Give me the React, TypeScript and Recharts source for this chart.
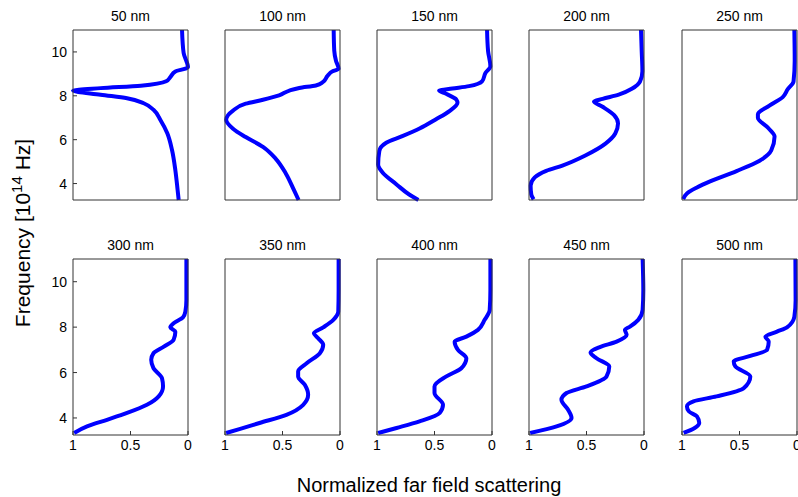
import React from 'react';
import { LineChart, Line, XAxis, YAxis } from 'recharts';

// ---------- data ----------
const titles = ['50 nm', '100 nm', '150 nm', '200 nm', '250 nm', '300 nm', '350 nm', '400 nm', '450 nm', '500 nm'];
const xTicks = [0, 0.5, 1];
const yTicks = [4, 6, 8, 10];
const Y_MIN = 3.25;
const Y_MAX = 11;

// frequency [1e14 Hz] / normalized scattering for each diameter
const f50 = [3.25, 3.69, 4.61, 5.53, 6.29, 6.9, 7.36, 7.66, 7.89, 8.05, 8.24, 8.35, 8.46, 8.66, 8.85, 9.11, 9.24, 9.3, 9.95, 11];
const s50 = [0.081, 0.09, 0.11, 0.139, 0.18, 0.24, 0.3, 0.385, 0.53, 0.76, 1.0, 0.76, 0.41, 0.19, 0.154, 0.11, 0.023, 0.0, 0.038, 0.052];

const f100 = [3.25, 3.7, 4.45, 5.14, 5.67, 6.12, 6.5, 6.91, 7.33, 7.64, 7.82, 8.02, 8.24, 8.36, 8.47, 8.62, 8.92, 9.12, 9.23, 9.6, 10.06, 11];
const s100 = [0.36, 0.4, 0.47, 0.56, 0.67, 0.82, 0.93, 0.99, 0.93, 0.82, 0.67, 0.53, 0.44, 0.354, 0.21, 0.15, 0.107, 0.064, 0.012, 0.035, 0.05, 0.055];

const f150 = [3.25, 3.5, 3.96, 4.49, 4.87, 5.48, 5.86, 6.16, 6.51, 6.92, 7.3, 7.68, 7.83, 8.09, 8.24, 8.33, 8.44, 8.66, 9.04, 9.35, 10.03, 11];
const s150 = [0.64, 0.72, 0.83, 0.95, 0.99, 0.98, 0.92, 0.78, 0.63, 0.49, 0.37, 0.3, 0.31, 0.4, 0.46, 0.345, 0.2, 0.086, 0.057, 0.014, 0.034, 0.043];

const f200 = [3.28, 3.5, 3.9, 4.28, 4.58, 4.82, 5.28, 5.82, 6.28, 6.74, 7.12, 7.5, 7.74, 7.86, 8.05, 8.32, 8.66, 9.12, 10.05, 11];
const s200 = [0.96, 0.98, 0.986, 0.95, 0.85, 0.71, 0.51, 0.335, 0.25, 0.226, 0.26, 0.36, 0.435, 0.36, 0.22, 0.106, 0.034, 0.014, 0.02, 0.026];

const f250 = [3.29, 3.55, 3.82, 4.1, 4.57, 5.04, 5.51, 6.14, 6.53, 7.0, 7.16, 7.55, 7.94, 8.3, 8.65, 9.6, 11];
const s250 = [0.99, 0.957, 0.87, 0.756, 0.526, 0.325, 0.224, 0.195, 0.25, 0.34, 0.34, 0.24, 0.124, 0.08, 0.03, 0.02, 0.023];

const f300 = [3.34, 3.63, 3.92, 4.22, 4.58, 4.95, 5.39, 5.75, 6.19, 6.56, 6.85, 7.14, 7.44, 7.8, 7.99, 8.17, 8.43, 8.68, 9.2, 11];
const s300 = [0.99, 0.878, 0.704, 0.53, 0.357, 0.255, 0.217, 0.226, 0.3, 0.32, 0.3, 0.21, 0.125, 0.11, 0.154, 0.125, 0.043, 0.023, 0.014, 0.014];

const f350 = [3.34, 3.51, 3.78, 4.14, 4.58, 5.02, 5.46, 5.83, 6.05, 6.41, 6.85, 7.22, 7.51, 7.73, 7.99, 8.32, 8.68, 9.63, 11];
const s350 = [0.99, 0.875, 0.7, 0.466, 0.32, 0.277, 0.306, 0.364, 0.364, 0.29, 0.175, 0.146, 0.19, 0.227, 0.146, 0.058, 0.015, 0.012, 0.012];

const f400 = [3.34, 3.56, 3.85, 4.22, 4.58, 5.1, 5.39, 5.83, 6.19, 6.63, 7.0, 7.36, 7.58, 7.88, 8.32, 8.76, 9.63, 11];
const s400 = [0.99, 0.83, 0.63, 0.455, 0.426, 0.5, 0.5, 0.397, 0.267, 0.223, 0.296, 0.325, 0.223, 0.122, 0.064, 0.02, 0.014, 0.014];

const f450 = [3.34, 3.63, 4.0, 4.36, 4.8, 5.1, 5.39, 5.83, 6.27, 6.63, 6.88, 7.12, 7.36, 7.66, 7.88, 8.02, 8.32, 8.76, 9.63, 11];
const s450 = [0.99, 0.76, 0.63, 0.66, 0.718, 0.674, 0.5, 0.326, 0.302, 0.413, 0.465, 0.384, 0.238, 0.151, 0.166, 0.122, 0.05, 0.012, 0.006, 0.012];

const f500 = [3.34, 3.56, 3.78, 4.07, 4.29, 4.51, 4.73, 4.95, 5.31, 5.83, 6.27, 6.49, 6.73, 7.0, 7.36, 7.58, 7.8, 7.99, 8.46, 9.2, 11];
const s500 = [0.986, 0.89, 0.85, 0.87, 0.94, 0.957, 0.9, 0.7, 0.464, 0.406, 0.536, 0.55, 0.406, 0.26, 0.246, 0.275, 0.174, 0.087, 0.023, 0.012, 0.014];

const freqs = [f50, f100, f150, f200, f250, f300, f350, f400, f450, f500];
const scats = [s50, s100, s150, s200, s250, s300, s350, s400, s450, s500];

// ---------- layout ----------
const PANEL_X = [73, 225, 377, 529, 682];
const PW = 115;
const ROW_Y = [30, 259];
const ROW_H = [170, 176];
const FRAME = '#333333';
const FONT = '"Liberation Sans", Arial, Helvetica, sans-serif';

function Panel({ idx }: { idx: number }) {
  const row = Math.floor(idx / 5);
  const col = idx % 5;
  const L = 45, T = 6, R = 12, B = 28;
  const px = PANEL_X[col];
  const py = ROW_Y[row];
  const ph = ROW_H[row];
  const data = freqs[idx].map((f, i) => ({ f, v: scats[idx][i] }));
  const showX = row === 1;
  const showY = col === 0;
  const tickStyle = { fill: '#000', fontSize: 14, fontFamily: FONT };
  const line = { stroke: FRAME, strokeWidth: 1 };
  return (
    <div style={{ position: 'absolute', left: px - L, top: py - T }}>
      <LineChart
        width={PW + L + R}
        height={ph + T + B}
        data={data}
        layout="vertical"
        margin={{ top: T - 1, right: R - 1, bottom: 0, left: 0 }}
      >
        <XAxis
          type="number"
          domain={[0, 1]}
          reversed
          orientation="bottom"
          height={B}
          ticks={xTicks}
          interval={0}
          axisLine={line}
          tickLine={showX ? line : false}
          tick={showX ? tickStyle : false}
          tickSize={-4}
          tickMargin={9}
        />
        <XAxis
          xAxisId="top"
          type="number"
          domain={[0, 1]}
          reversed
          orientation="top"
          height={1}
          ticks={xTicks}
          interval={0}
          axisLine={line}
          tickLine={showX ? line : false}
          tick={false}
          tickSize={-4}
        />
        <YAxis
          type="number"
          dataKey="f"
          domain={[Y_MIN, Y_MAX]}
          reversed
          orientation="left"
          width={L}
          ticks={yTicks}
          interval={0}
          axisLine={line}
          tickLine={showY ? line : false}
          tick={showY ? tickStyle : false}
          tickSize={-4}
          tickMargin={10}
        />
        <YAxis
          yAxisId="right"
          type="number"
          dataKey="f"
          domain={[Y_MIN, Y_MAX]}
          reversed
          orientation="right"
          width={1}
          ticks={yTicks}
          interval={0}
          axisLine={line}
          tickLine={showY ? line : false}
          tick={false}
          tickSize={-4}
        />
        <Line
          dataKey="v"
          type="monotone"
          stroke="#0000ff"
          strokeWidth={4}
          dot={false}
          activeDot={false}
          isAnimationActive={false}
        />
      </LineChart>
    </div>
  );
}

export default function App() {
  return (
    <div style={{ position: 'absolute', left: 0, top: 0, width: 798, height: 497, background: '#fff', fontFamily: FONT }}>
      <svg width={798} height={497} style={{ position: 'absolute', left: 0, top: 0 }}>
        {titles.map((t, i) => {
          const row = Math.floor(i / 5);
          const col = i % 5;
          return (
            <text
              key={t}
              x={PANEL_X[col] + PW / 2}
              y={row === 0 ? 21 : 250}
              textAnchor="middle"
              fontSize={14}
              fontFamily={FONT}
              fill="#000"
            >
              {t}
            </text>
          );
        })}
        <text x={429} y={492} textAnchor="middle" fontSize={20} fontFamily={FONT} fill="#000">
          Normalized far field scattering
        </text>
        <text transform="translate(30,233) rotate(-90)" textAnchor="middle" fontSize={21} fontFamily={FONT} fill="#000">
          Frequency [10
          <tspan dy={-8} fontSize={15}>14</tspan>
          <tspan dy={8}> Hz]</tspan>
        </text>
      </svg>
      {titles.map((t, i) => (
        <Panel key={t} idx={i} />
      ))}
    </div>
  );
}
